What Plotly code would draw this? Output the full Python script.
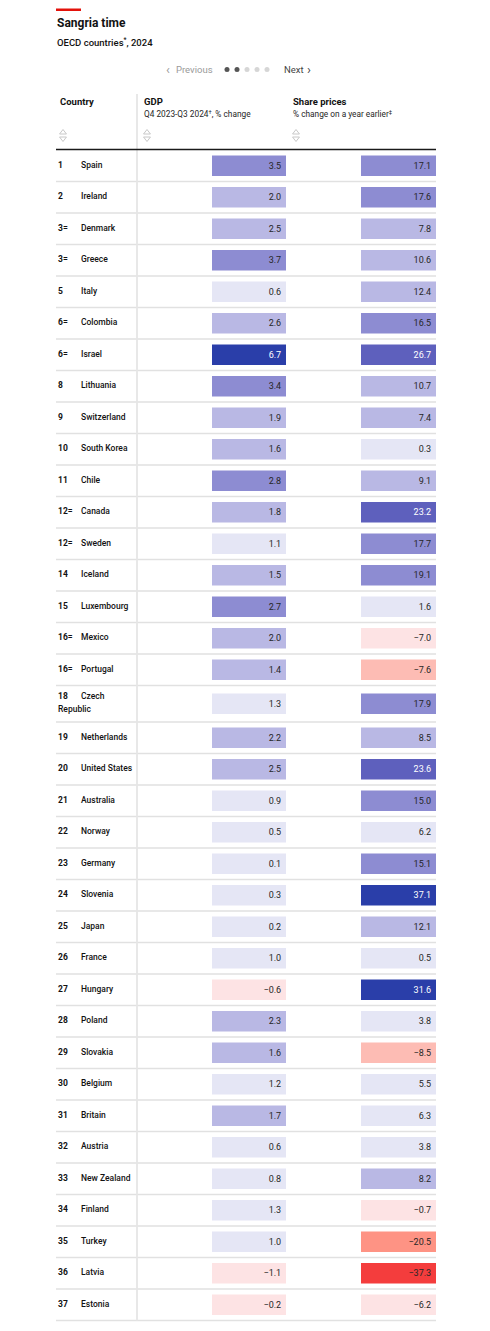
import plotly.graph_objects as go

# ---------------- data ----------------
ranks = ["1", "2", "3=", "3=", "5", "6=", "6=", "8", "9", "10", "11", "12=", "12=", "14", "15",
         "16=", "16=", "18", "19", "20", "21", "22", "23", "24", "25", "26", "27", "28", "29",
         "30", "31", "32", "33", "34", "35", "36", "37"]
countries = ["Spain", "Ireland", "Denmark", "Greece", "Italy", "Colombia", "Israel", "Lithuania",
             "Switzerland", "South Korea", "Chile", "Canada", "Sweden", "Iceland", "Luxembourg",
             "Mexico", "Portugal", "Czech Republic", "Netherlands", "United States", "Australia",
             "Norway", "Germany", "Slovenia", "Japan", "France", "Hungary", "Poland", "Slovakia",
             "Belgium", "Britain", "Austria", "New Zealand", "Finland", "Turkey", "Latvia", "Estonia"]
gdp = [3.5, 2.0, 2.5, 3.7, 0.6, 2.6, 6.7, 3.4, 1.9, 1.6, 2.8, 1.8, 1.1, 1.5, 2.7,
       2.0, 1.4, 1.3, 2.2, 2.5, 0.9, 0.5, 0.1, 0.3, 0.2, 1.0, -0.6, 2.3, 1.6,
       1.2, 1.7, 0.6, 0.8, 1.3, 1.0, -1.1, -0.2]
shares = [17.1, 17.6, 7.8, 10.6, 12.4, 16.5, 26.7, 10.7, 7.4, 0.3, 9.1, 23.2, 17.7, 19.1, 1.6,
          -7.0, -7.6, 17.9, 8.5, 23.6, 15.0, 6.2, 15.1, 37.1, 12.1, 0.5, 31.6, 3.8, -8.5,
          5.5, 6.3, 3.8, 8.2, -0.7, -20.5, -37.3, -6.2]

# ---------------- styles ----------------
FONT = "Roboto"
C_DARK = "#2a3ea9"
C_MDARK = "#5e60bd"
C_MID = "#8d8cd2"
C_LIGHT = "#b9b8e4"
C_VLIGHT = "#e5e6f5"
C_VLPINK = "#fde3e4"
C_PINK = "#fdbcb4"
C_SALMON = "#fe9384"
C_RED = "#f43d3d"


def gdp_color(v):
    if v < 0:
        return C_VLPINK
    if v < 1.35:
        return C_VLIGHT
    if v < 2.65:
        return C_LIGHT
    if v < 4.5:
        return C_MID
    return C_DARK


def share_color(v):
    if v < -30:
        return C_RED
    if v < -15:
        return C_SALMON
    if v < -7.5:
        return C_PINK
    if v < 0:
        return C_VLPINK
    if v < 7:
        return C_VLIGHT
    if v < 14:
        return C_LIGHT
    if v < 20:
        return C_MID
    if v < 30:
        return C_MDARK
    return C_DARK


def txt_color(c):
    return "#ffffff" if c in (C_DARK, C_MDARK) else "#262626"


def fmt(v):
    s = f"{abs(v):.1f}"
    return (("\u2212" + s) if v < 0 else s) + "\u2009"


# ---------------- layout geometry (page pixels) ----------------
W, H = 490, 1331
PAGE_OFF = 8         # default body margin of the html page
TABLE_L, TABLE_R = 56, 436
COL_DIV = 137
TOP = 150            # header rule
ROW_H = 31.5
WRAP_EXTRA = 5
WRAP_LEN = 13
GDP_X0, GDP_X1 = 212, 286
SH_X0, SH_X1 = 361, 436
BAR_H = 20.5

wrapped = [len(c) > WRAP_LEN for c in countries]
centers, bounds = [], [TOP]
y = TOP
for w in wrapped:
    h = ROW_H + (WRAP_EXTRA if w else 0)
    centers.append(y + h / 2)
    y += h
    bounds.append(y)

fig = go.Figure()

# row separators
sx, sy = [], []
for b in bounds[1:]:
    sx += [TABLE_L, TABLE_R, None]
    sy += [b, b, None]
fig.add_trace(go.Scatter(x=sx, y=sy, mode="lines", line=dict(color="#e1e1e1", width=1.3),
                         hoverinfo="skip", showlegend=False))
# column divider
fig.add_trace(go.Scatter(x=[COL_DIV, COL_DIV], y=[94, bounds[-1]], mode="lines",
                         line=dict(color="#e6e6e6", width=1.8), hoverinfo="skip", showlegend=False))
# header rule
fig.add_trace(go.Scatter(x=[TABLE_L, TABLE_R], y=[TOP - 0.5, TOP - 0.5], mode="lines",
                         line=dict(color="#1a1a1a", width=1.3), hoverinfo="skip", showlegend=False))

gdp_cols = [gdp_color(v) for v in gdp]
sh_cols = [share_color(v) for v in shares]

fig.add_trace(go.Bar(
    y=centers, x=[GDP_X1 - GDP_X0] * len(gdp), base=GDP_X0, orientation="h",
    width=BAR_H, marker=dict(color=gdp_cols, line=dict(width=0)),
    text=[fmt(v) for v in gdp], textposition="inside", insidetextanchor="end",
    textfont=dict(family=FONT, size=9, color=[txt_color(c) for c in gdp_cols]),
    textangle=0, cliponaxis=False, hoverinfo="skip", showlegend=False))
fig.add_trace(go.Bar(
    y=centers, x=[SH_X1 - SH_X0] * len(shares), base=SH_X0, orientation="h",
    width=BAR_H, marker=dict(color=sh_cols, line=dict(width=0)),
    text=[fmt(v) for v in shares], textposition="inside", insidetextanchor="end",
    textfont=dict(family=FONT, size=9, color=[txt_color(c) for c in sh_cols]),
    textangle=0, cliponaxis=False, hoverinfo="skip", showlegend=False))

# ranks and country names
rank_y, name1, name1_y, name2, name2_y = [], [], [], [], []
for c, yc, w in zip(countries, centers, wrapped):
    if w:
        first, rest = c.split(" ", 1)
        rank_y.append(yc - 6.5)
        name1.append(first)
        name1_y.append(yc - 6.5)
        name2.append(rest)
        name2_y.append(yc + 6.5)
    else:
        rank_y.append(yc)
        name1.append(c)
        name1_y.append(yc)

fig.add_trace(go.Scatter(x=[58] * len(ranks), y=rank_y, mode="text", text=ranks,
                         textposition="middle right",
                         textfont=dict(family=FONT, size=8.5, color="#121212", weight=700),
                         hoverinfo="skip", showlegend=False))
fig.add_trace(go.Scatter(x=[81] * len(name1), y=name1_y, mode="text", text=name1,
                         textposition="middle right",
                         textfont=dict(family=FONT, size=8.5, color="#121212", weight=500),
                         hoverinfo="skip", showlegend=False))
fig.add_trace(go.Scatter(x=[58] * len(name2), y=name2_y, mode="text", text=name2,
                         textposition="middle right",
                         textfont=dict(family=FONT, size=8.5, color="#121212", weight=500),
                         hoverinfo="skip", showlegend=False))

# sort icons
icon_x = [63, 147, 296]
fig.add_trace(go.Scatter(x=icon_x, y=[132.5] * 3, mode="markers",
                         marker=dict(symbol="triangle-up-open", size=6, color="#c8c8c8",
                                     line=dict(width=1, color="#c8c8c8")),
                         hoverinfo="skip", showlegend=False))
fig.add_trace(go.Scatter(x=icon_x, y=[138.5] * 3, mode="markers",
                         marker=dict(symbol="triangle-down-open", size=6, color="#c8c8c8",
                                     line=dict(width=1, color="#c8c8c8")),
                         hoverinfo="skip", showlegend=False))

# pagination dots
dot_x = [227, 237, 247, 257, 267]
fig.add_trace(go.Scatter(x=dot_x, y=[69.5] * 5, mode="markers",
                         marker=dict(size=5, color=["#555555", "#555555", "#d6d6d6", "#d6d6d6", "#d6d6d6"]),
                         hoverinfo="skip", showlegend=False))


def ann(x, y, text, size, color="#121212", weight=400, xanchor="left"):
    fig.add_annotation(x=x, y=y, xref="x", yref="y", text=text, showarrow=False,
                       xanchor=xanchor, yanchor="middle",
                       font=dict(family=FONT, size=size, color=color, weight=weight))


ann(55, 22.5, "<b>Sangria time</b>", 12)
ann(55, 41.5, "OECD countries<sup>*</sup>, 2024", 9.5, weight=500)
ann(164, 69.5, "\u2039", 13, color="#9a9a9a")
ann(174, 69.5, "Previous", 9.5, color="#9a9a9a")
ann(282, 69.5, "Next", 9.5, color="#444444")
ann(305, 69.5, "\u203a", 13, color="#444444")

ann(58, 101.5, "<b>Country</b>", 9.5)
ann(142, 101.5, "<b>GDP</b>", 9.5)
ann(142, 114, "Q4 2023-Q3 2024<sup>\u2020</sup>, % change", 8.3, color="#262626")
ann(291, 101.5, "<b>Share prices</b>", 9.5)
ann(291, 114, "% change on a year earlier<sup>\u2021</sup>", 8.3, color="#262626")

fig.update_layout(
    width=W, height=H,
    margin=dict(l=0, r=0, t=0, b=0),
    paper_bgcolor="white", plot_bgcolor="white",
    barmode="overlay",
    xaxis=dict(range=[PAGE_OFF, W + PAGE_OFF], visible=False, fixedrange=True),
    yaxis=dict(range=[H + PAGE_OFF, PAGE_OFF], visible=False, fixedrange=True),
    shapes=[dict(type="rect", xref="x", yref="y", x0=56, x1=81, y0=8.5, y1=11,
                 fillcolor="#e3120b", line=dict(width=0))],
    uniformtext=dict(minsize=6, mode="show"),
)

fig.write_html("out.html")
